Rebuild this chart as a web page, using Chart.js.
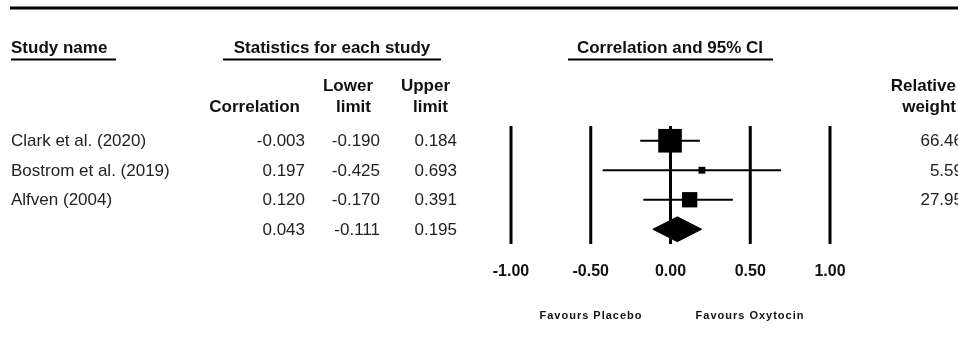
<!DOCTYPE html>
<html>
<head>
<meta charset="utf-8">
<script src="https://cdn.jsdelivr.net/npm/chart.js@4.4.1/dist/chart.umd.min.js"></script>
<style>
  html, body { margin: 0; padding: 0; background: #fff; }
  #wrap { width: 958px; height: 357px; position: relative; }
</style>
</head>
<body>
<div id="wrap"><canvas id="forest"></canvas></div>
<script>
// dados do forest plot
const studies = ['Clark et al. (2020)', 'Bostrom et al. (2019)', 'Alfven (2004)'];
const correlation = [-0.003, 0.197, 0.120];
const lowerLimit = [-0.190, -0.425, -0.170];
const upperLimit = [0.184, 0.693, 0.391];
const weights = [66.46, 5.59, 27.95];
// efeito combinado: estimativa, limite inferior, limite superior
const pooled = [0.043, -0.111, 0.195];
const tickValues = [-1, -0.5, 0, 0.5, 1];
const tickLabels = ['-1.00', '-0.50', '0.00', '0.50', '1.00'];

const FONT = '"Liberation Sans", Arial, sans-serif';
const pooledRow = studies.length;
const diamondHalf = 0.42;

const datasets = [];

// linhas verticais de referencia
tickValues.forEach(t => {
  datasets.push({
    type: 'line',
    data: [{ x: t, y: -0.5 }, { x: t, y: 3.5 }],
    borderColor: '#000', borderWidth: 3, pointRadius: 0, clip: false
  });
});

// intervalos de confianca de cada estudo
studies.forEach((s, i) => {
  datasets.push({
    type: 'line',
    data: [{ x: lowerLimit[i], y: i }, { x: upperLimit[i], y: i }],
    borderColor: '#000', borderWidth: 2, pointRadius: 0, clip: false
  });
});

// quadrados (area proporcional ao peso)
datasets.push({
  type: 'scatter',
  data: studies.map((s, i) => ({ x: correlation[i], y: i })),
  pointStyle: 'rect',
  pointRadius: ctx => Math.sqrt(weights[ctx.dataIndex]) * 2.05,
  backgroundColor: '#000', borderWidth: 0, clip: false
});

// losango do efeito combinado (metade de cima preenchida ate a de baixo)
datasets.push({
  type: 'line',
  data: [{ x: pooled[1], y: pooledRow }, { x: pooled[0], y: pooledRow - diamondHalf }, { x: pooled[2], y: pooledRow }],
  borderColor: '#000', borderWidth: 1, backgroundColor: '#000', pointRadius: 0, fill: '+1', tension: 0, clip: false
});
datasets.push({
  type: 'line',
  data: [{ x: pooled[1], y: pooledRow }, { x: pooled[0], y: pooledRow + diamondHalf }, { x: pooled[2], y: pooledRow }],
  borderColor: '#000', borderWidth: 1, backgroundColor: '#000', pointRadius: 0, fill: false, tension: 0, clip: false
});

function txt(ctx, s, x, y, align, font) {
  ctx.font = font;
  ctx.textAlign = align;
  ctx.fillText(s, x, y);
}

function hline(ctx, x1, x2, y, w) {
  ctx.beginPath();
  ctx.lineWidth = w;
  ctx.moveTo(x1, y);
  ctx.lineTo(x2, y);
  ctx.stroke();
}

// plugin que desenha a tabela e os textos
const tablePlugin = {
  id: 'tabela',
  afterDraw(chart) {
    const ctx = chart.ctx;
    const xs = chart.scales.x;
    const ys = chart.scales.y;
    ctx.save();
    ctx.fillStyle = '#000';
    ctx.strokeStyle = '#000';
    ctx.textBaseline = 'middle';

    hline(ctx, 10, 958, 8, 3);

    const bold = 'bold 17px ' + FONT;
    const reg = '17px ' + FONT;
    ctx.fillStyle = '#111';
    txt(ctx, 'Study name', 11, 48, 'left', bold);
    txt(ctx, 'Statistics for each study', 332, 48, 'center', bold);
    txt(ctx, 'Correlation and 95% CI', 670, 48, 'center', bold);
    hline(ctx, 11, 116, 59.5, 2);
    hline(ctx, 223, 441, 59.5, 2);
    hline(ctx, 568, 773, 59.5, 2);

    txt(ctx, 'Correlation', 300, 107, 'right', bold);
    txt(ctx, 'Lower', 373, 86, 'right', bold);
    txt(ctx, 'limit', 371, 107, 'right', bold);
    txt(ctx, 'Upper', 450, 86, 'right', bold);
    txt(ctx, 'limit', 448, 107, 'right', bold);
    txt(ctx, 'Relative', 956, 86, 'right', bold);
    txt(ctx, 'weight', 956, 107, 'right', bold);

    ctx.fillStyle = '#222';
    studies.forEach((s, i) => {
      const y = ys.getPixelForValue(i) + 1;
      txt(ctx, s, 11, y, 'left', reg);
      txt(ctx, correlation[i].toFixed(3), 305, y, 'right', reg);
      txt(ctx, lowerLimit[i].toFixed(3), 380, y, 'right', reg);
      txt(ctx, upperLimit[i].toFixed(3), 457, y, 'right', reg);
      txt(ctx, weights[i].toFixed(2), 963, y, 'right', reg);
    });
    const yp = ys.getPixelForValue(pooledRow) + 1;
    txt(ctx, pooled[0].toFixed(3), 305, yp, 'right', reg);
    txt(ctx, pooled[1].toFixed(3), 380, yp, 'right', reg);
    txt(ctx, pooled[2].toFixed(3), 457, yp, 'right', reg);

    // rotulos do eixo x
    ctx.fillStyle = '#111';
    tickValues.forEach((t, i) => {
      txt(ctx, tickLabels[i], xs.getPixelForValue(t), 272, 'center', 'bold 16px ' + FONT);
    });

    ctx.letterSpacing = '1px';
    txt(ctx, 'Favours Placebo', 591, 316, 'center', 'bold 11px ' + FONT);
    txt(ctx, 'Favours Oxytocin', 750, 316, 'center', 'bold 11px ' + FONT);
    ctx.restore();
  }
};

new Chart(document.getElementById('forest'), {
  type: 'scatter',
  data: { datasets: datasets },
  options: {
    responsive: true,
    maintainAspectRatio: false,
    animation: false,
    layout: { padding: { left: 511, right: 128, top: 126, bottom: 113 } },
    scales: {
      x: { type: 'linear', min: -1, max: 1, display: false },
      y: { type: 'linear', min: -0.5, max: 3.5, reverse: true, display: false }
    },
    plugins: { legend: { display: false }, tooltip: { enabled: false } }
  },
  plugins: [tablePlugin]
});
</script>
</body>
</html>
